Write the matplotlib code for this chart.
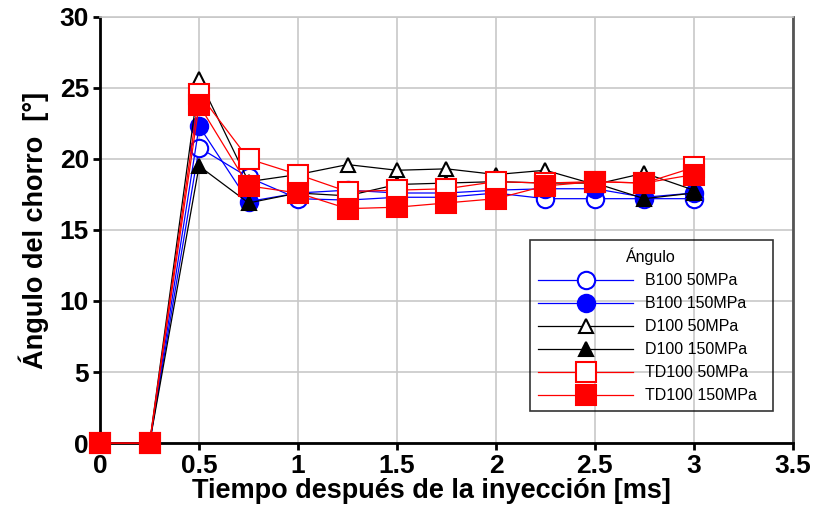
import matplotlib.pyplot as plt

# tiempo despues de la inyeccion [ms]
t = [0, 0.25, 0.5, 0.75, 1.0, 1.25, 1.5, 1.75, 2.0, 2.25, 2.5, 2.75, 3.0]

b100_50 = [0, 0, 20.8, 18.7, 17.2, 17.1, 17.3, 17.3, 17.6, 17.2, 17.2, 17.2, 17.2]
b100_150 = [0, 0, 22.3, 17.0, 17.6, 17.8, 17.6, 17.6, 17.8, 17.9, 17.9, 17.3, 17.6]
d100_50 = [0, 0, 25.6, 18.4, 18.9, 19.6, 19.2, 19.3, 18.9, 19.2, 18.2, 19.0, 17.8]
d100_150 = [0, 0, 19.5, 16.9, 17.6, 17.4, 18.2, 18.3, 18.4, 18.3, 18.3, 17.2, 17.6]
td100_50 = [0, 0, 24.6, 20.0, 18.9, 17.7, 17.8, 17.9, 18.4, 18.3, 18.4, 18.3, 19.4]
td100_150 = [0, 0, 23.8, 18.1, 17.6, 16.5, 16.6, 16.9, 17.2, 18.1, 18.4, 18.3, 18.9]

labels = ['B100 50MPa', 'B100 150MPa', 'D100 50MPa', 'D100 150MPa',
          'TD100 50MPa', 'TD100 150MPa']

plt.rcParams['font.family'] = ['Liberation Sans', 'DejaVu Sans']

fig = plt.figure(figsize=(8.14, 5.25), dpi=100)
ax = fig.add_axes([0.123, 0.156, 0.851, 0.812])

series = [b100_50, b100_150, d100_50, d100_150, td100_50, td100_150]
colors = ['#0000ff', '#0000ff', 'black', 'black', '#ff0000', '#ff0000']
markers = ['o', 'o', '^', '^', 's', 's']
filled = [False, True, False, True, False, True]
msizes = [12.5, 12.5, 9.5, 9.5, 14, 14]

for y, c, m, f, ms, lab in zip(series, colors, markers, filled, msizes, labels):
    ax.plot(t, y, color=c, lw=0.9, marker=m, markersize=ms,
            markerfacecolor=c if f else 'white', markeredgecolor=c,
            markeredgewidth=1.5, label=lab, clip_on=False, zorder=3)

ax.set_xlim(0, 3.5)
ax.set_ylim(0, 30)
ax.set_xticks([0, 0.5, 1, 1.5, 2, 2.5, 3, 3.5])
ax.set_xticklabels(['0', '0.5', '1', '1.5', '2', '2.5', '3', '3.5'])
ax.set_yticks([0, 5, 10, 15, 20, 25, 30])
ax.grid(True, color='#c8c8c8', lw=1.2)
ax.set_axisbelow(True)

for s in ['left', 'bottom']:
    ax.spines[s].set_linewidth(2)
ax.spines['right'].set_linewidth(2)
ax.spines['right'].set_color('#555555')
ax.spines['top'].set_color('#c8c8c8')
ax.spines['top'].set_linewidth(1.2)
ax.tick_params(axis='both', direction='out', width=2, length=5,
               labelsize=19, right=False, top=False, pad=3)
for lab in ax.get_xticklabels() + ax.get_yticklabels():
    lab.set_fontweight('bold')

ax.set_xlabel('Tiempo después de la inyección [ms]', fontsize=19.5,
              fontweight='bold')
ax.xaxis.set_label_coords(0.479, -0.082)
ax.set_ylabel('Ángulo del chorro  [°]', fontsize=19.5, fontweight='bold',
              labelpad=8)

leg = ax.legend(title='Ángulo', loc='upper left',
                bbox_to_anchor=(0.62, 0.4765, 0.351, 0.0), mode='expand',
                fontsize=11.5, title_fontsize=11.5, frameon=True,
                fancybox=False, edgecolor='black', handlelength=6.0,
                markerscale=1.0, labelspacing=0.5, borderpad=0.5,
                borderaxespad=0, handletextpad=0.75)
leg.get_frame().set_facecolor('none')
leg.get_frame().set_linewidth(1.2)
leg.set_zorder(5)

fig.savefig('out.png', dpi=100)
